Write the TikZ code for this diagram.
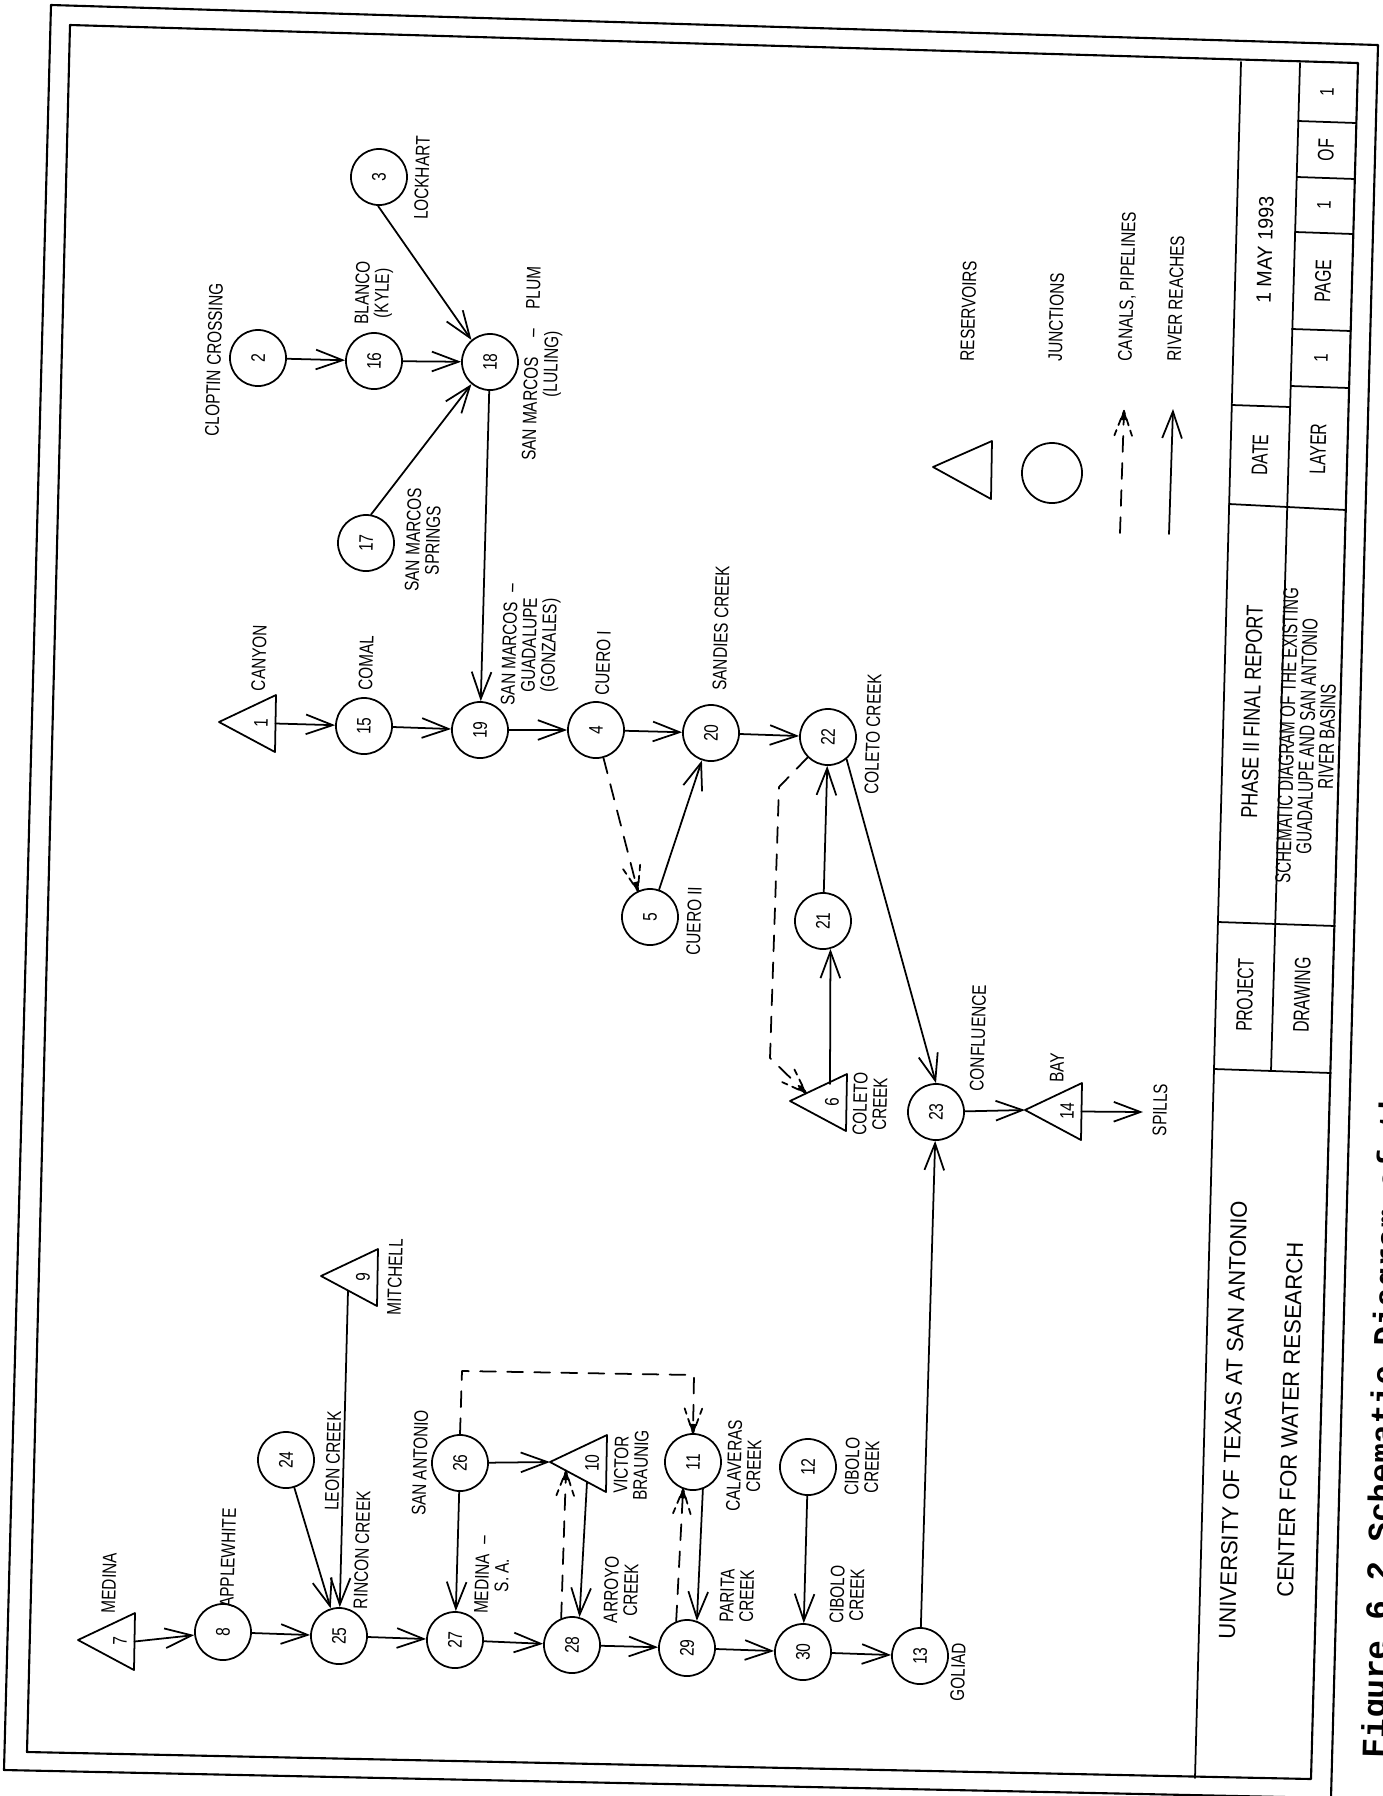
\documentclass[tikz,border=0pt]{standalone}
\usepackage{fontspec}
\usetikzlibrary{arrows.meta,decorations.markings}
\newfontfamily\labff[FakeStretch=0.78]{Liberation Sans}
\newfontfamily\tbnff[FakeStretch=0.70]{Liberation Sans}
\newfontfamily\tbwff[FakeStretch=0.95]{Liberation Sans}
\newfontfamily\capff{Liberation Mono}
\newcommand{\fLab}{\labff\fontsize{5.6pt}{5.6pt}\selectfont}
\newcommand{\fTbn}{\tbnff\fontsize{6.4pt}{6.4pt}\selectfont}
\newcommand{\fSch}{\tbnff\fontsize{6.1pt}{5.7pt}\selectfont}
\newcommand{\fUni}{\tbwff\fontsize{6.6pt}{7pt}\selectfont}
\newcommand{\fDat}{\tbwff\fontsize{5.9pt}{6pt}\selectfont}
\newcommand{\fPha}{\labff\fontsize{6.6pt}{7pt}\selectfont}
\newcommand{\fCap}{\capff\bfseries\fontsize{9.3pt}{10pt}\selectfont}
\newcommand{\canaltip}{%
  \draw[solid,dash pattern=on 2pt off 1.5pt,dash phase=1.2pt] (0,0) -- (-7pt,2.5pt) (0,0) -- (-7pt,-2.5pt);
  \fill (0.4pt,0) -- (-2.6pt,1.1pt) -- (-2.6pt,-1.1pt) -- cycle;}
\tikzset{
  jn/.style={circle,draw,minimum size=0.56cm,inner sep=0pt,font=\fLab},
  lbl/.style={rotate=88.4,inner sep=0pt,align=center,font=\fLab},
  tb/.style={rotate=88.4,inner sep=0pt,align=center},
  river/.style={-{Straight Barb[length=7.6pt,width=5.6pt]}},
  canal/.style={dash pattern=on 4.5pt off 3.2pt,
    postaction={decorate,decoration={markings,mark=at position 1 with {\canaltip}}}}
}
\newcommand{\jn}[4]{\node[jn] (#1) at (#2,#3) {\rotatebox{88.4}{#4}};}
\newcommand{\resv}[4]{%
  \coordinate (#1a) at (#2,#3);
  \coordinate (#1t) at (#2+57,#3-27);
  \coordinate (#1b) at (#2+56,#3+30);
  \coordinate (#1e) at (#2+56.5,#3+1.5);
  \draw (#1a) -- (#1t) -- (#1b) -- cycle;
  \node[lbl] (#1) at (#2+42,#3+1) {#4};}
\begin{document}
\begin{tikzpicture}[x=0.01cm,y=-0.01cm,line width=0.5pt,line cap=round,line join=round]
\useasboundingbox (0,0) rectangle (1383,1796);
\clip (0,0) rectangle (1383,1796);

% ---------- frames ----------
\draw[line width=0.6pt] (51,5) -- (1378,45) -- (1331,1798) -- (4,1770) -- cycle;
\draw[line width=0.6pt] (70,25) -- (1358,63) -- (1311,1779) -- (27,1752) -- cycle;

% ---------- title block ----------
\draw (1241,62) -- (1195,1778);
\draw (1300,63) -- (1271,1071);
\draw (1232,405) -- (1290,407);
\draw (1229,504) -- (1346,510);
\draw (1298,121) -- (1356,123);
\draw (1297,177) -- (1355,179);
\draw (1295,232) -- (1353,234);
\draw (1292,329) -- (1351,331);
\draw (1291,386) -- (1349,388);
\draw (1218,922) -- (1335,926);
\draw (1214,1069) -- (1331,1073);

\node[tb,font=\fDat] (tdate) at (1265,250) {1 MAY 1993};
\node[tb,font=\fTbn] (tdatel) at (1260,455) {DATE};
\node[tb,font=\fPha] (tproj) at (1252,712) {PHASE II FINAL REPORT};
\node[tb,font=\fTbn] (tprojl) at (1245,995) {PROJECT};
\node[tb,font=\fLab] (tof1) at (1327,92) {1};
\node[tb,font=\fTbn] (tof) at (1326,150) {OF};
\node[tb,font=\fLab] (tpg1) at (1324,205) {1};
\node[tb,font=\fTbn] (tpg) at (1323,281) {PAGE};
\node[tb,font=\fLab] (tly1) at (1321,358) {1};
\node[tb,font=\fTbn] (tly) at (1318,449) {LAYER};
\node[tb,font=\fSch] (tdrw) at (1307,736) {SCHEMATIC DIAGRAM OF THE EXISTING\\GUADALUPE AND SAN ANTONIO\\RIVER BASINS};
\node[tb,font=\fTbn] (tdrwl) at (1302,995) {DRAWING};
\node[tb,font=\fUni] (tuni) at (1233,1420) {UNIVERSITY OF TEXAS AT SAN ANTONIO};
\node[tb,font=\fUni] (tcwr) at (1290,1420) {CENTER FOR WATER RESEARCH};

\node[rotate=88.4,anchor=base west,inner sep=0pt,font=\fCap] (cap) at (1384,1759) {Figure 6.2 Schematic Diagram of the};

% ---------- legend ----------
\draw (933,467) -- (992,441) -- (991,499) -- cycle;
\node[jn,minimum size=0.6cm] (legc) at (1052,473) {};
\coordinate (lg1a) at (1120,533);
\coordinate (lg1b) at (1124,411);
\draw[canal] (lg1a) -- (lg1b);
\coordinate (lg2a) at (1169,534);
\coordinate (lg2b) at (1173,409);
\draw[river] (lg2a) -- (lg2b);
\node[lbl,anchor=west] (lres) at (967,362) {RESERVOIRS};
\node[lbl,anchor=west] (ljun) at (1055,362) {JUNCTIONS};
\node[lbl,anchor=west] (lcan) at (1126,362) {CANALS, PIPELINES};
\node[lbl,anchor=west] (lriv) at (1174,362) {RIVER REACHES};

% ---------- reservoirs ----------
\resv{t1}{219}{722}{1}
\resv{t6}{790}{1101}{6}
\resv{t14}{1025}{1110}{14}
\resv{t7}{78}{1640}{7}
\resv{t9}{321}{1276}{9}
\resv{t10}{550}{1462}{10}

% ---------- junctions ----------
\jn{c2}{258}{358}{2}
\jn{c3}{379}{177}{3}
\jn{c16}{374}{361}{16}
\jn{c17}{366}{543}{17}
\jn{c18}{490}{362}{18}
\jn{c15}{364}{726}{15}
\jn{c19}{480}{730}{19}
\jn{c4}{596}{730}{4}
\jn{c5}{650}{917}{5}
\jn{c20}{711}{733}{20}
\jn{c22}{828}{737}{22}
\jn{c21}{823}{921}{21}
\jn{c23}{936}{1112}{23}
\jn{c24}{286}{1460}{24}
\jn{c26}{460}{1463}{26}
\jn{c11}{693}{1462}{11}
\jn{c12}{808}{1467}{12}
\jn{c8}{223}{1632}{8}
\jn{c25}{339}{1636}{25}
\jn{c27}{455}{1640}{27}
\jn{c28}{572}{1645}{28}
\jn{c29}{687}{1648}{29}
\jn{c30}{803}{1652}{30}
\jn{c13}{920}{1656}{13}

% ---------- labels ----------
\node[lbl] (l3) at (422,178) {LOCKHART};
\node[lbl] (l2) at (214,360) {CLOPTIN CROSSING};
\node[lbl] (l16) at (374,293) {BLANCO\\(KYLE)};
\node[lbl] (l18) at (543,364) {SAN MARCOS\quad–\quad PLUM\\(LULING)};
\node[lbl] (l17) at (423,540) {SAN MARCOS\\SPRINGS};
\node[lbl] (l1) at (259,658) {CANYON};
\node[lbl] (l15) at (366,663) {COMAL};
\node[lbl] (l19) at (531,645) {SAN MARCOS\enspace–\\GUADALUPE\\(GONZALES)};
\node[lbl] (l4) at (603,663) {CUERO I};
\node[lbl] (l5) at (694,921) {CUERO II};
\node[lbl] (l20) at (721,628) {SANDIES CREEK};
\node[lbl] (l22) at (873,734) {COLETO CREEK};
\node[lbl] (l6) at (870,1104) {COLETO\\CREEK};
\node[lbl] (l23) at (978,1038) {CONFLUENCE};
\node[lbl] (l14) at (1057,1068) {BAY};
\node[lbl] (lsp) at (1160,1110) {SPILLS};
\node[lbl] (l7) at (109,1583) {MEDINA};
\node[lbl] (l8) at (228,1558) {APPLEWHITE};
\node[lbl] (l25) at (362,1550) {RINCON CREEK};
\node[lbl] (l24) at (333,1461) {LEON CREEK};
\node[lbl] (l9) at (395,1277) {MITCHELL};
\node[lbl] (l26) at (420,1463) {SAN ANTONIO};
\node[lbl] (l10) at (631,1465) {VICTOR\\BRAUNIG};
\node[lbl] (l27) at (492,1575) {MEDINA\enspace–\\S. A.};
\node[lbl] (l28) at (621,1590) {ARROYO\\CREEK};
\node[lbl] (l11) at (744,1466) {CALAVERAS\\CREEK};
\node[lbl] (l29) at (737,1596) {PARITA\\CREEK};
\node[lbl] (l12) at (862,1467) {CIBOLO\\CREEK};
\node[lbl] (l30) at (847,1595) {CIBOLO\\CREEK};
\node[lbl] (l13) at (958,1672) {GOLIAD};

% ---------- connectors ----------
\coordinate (t9s) at (348,1291);
\coordinate (t10s) at (587,1482);
\coordinate (t10d) at (566,1471);
\coordinate (t6s) at (830,1084);
\coordinate (t6d) at (806,1093);
\coordinate (spl) at (1143,1112);
\coordinate (k1) at (462,1371);
\coordinate (k2) at (694,1375);
\coordinate (k3) at (779,787);
\coordinate (k4) at (770,1058);

\draw[river] (t7e) -- (c8);
\draw[river] (c8) -- (c25);
\draw[river] (c25) -- (c27);
\draw[river] (c27) -- (c28);
\draw[river] (c28) -- (c29);
\draw[river] (c29) -- (c30);
\draw[river] (c30) -- (c13);
\draw[river] (c24) -- (c25);
\draw[river] (t9s) -- (c25);
\draw[river] (c26) -- (t10a);
\draw[river] (c26) -- (c27);
\draw[river] (t10s) -- (c28.75);
\draw[canal] (c28.112) -- (t10d);
\draw[river] (c11.-70) -- (c29.70);
\draw[canal] (c29.112) -- (c11.-110);
\draw[canal] (c26.north) -- (k1) -- (k2) -- (c11.north);
\draw[river] (c12) -- (c30);
\draw[river] (c13) -- (c23);
\draw[river] (c23) -- (t14a);
\draw[river] (t14e) -- (spl);
\draw[river] (c22.-50) -- (c23.north);
\draw[river] (c21) -- (c22);
\draw[river] (t6s) -- (c21.-75);
\draw[canal] (c22.-135) -- (k3) -- (k4) -- (t6d);
\draw[river] (c20) -- (c22);
\draw[river] (c5) -- (c20);
\draw[canal] (c4.-75) -- (c5.115);
\draw[river] (c4) -- (c20);
\draw[river] (c19) -- (c4);
\draw[river] (c15) -- (c19);
\draw[river] (t1e) -- (c15);
\draw[river] (c18) -- (c19);
\draw[river] (c2) -- (c16);
\draw[river] (c16) -- (c18);
\draw[river] (c3.-92) -- (c18.130);
\draw[river] (c17.80) -- (c18.-130);
\end{tikzpicture}
\end{document}
